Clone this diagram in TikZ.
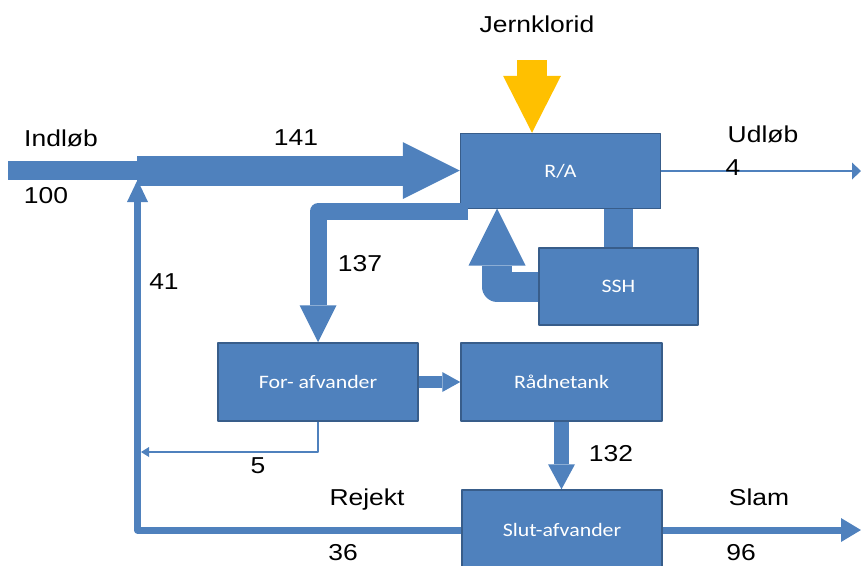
\documentclass[tikz,border=0pt]{standalone}
\usepackage{fontspec}
\setmainfont{Liberation Sans}
\newfontfamily\boxfont{Carlito}
\usetikzlibrary{arrows.meta}
\definecolor{fb}{HTML}{4F81BD}
\definecolor{bd}{HTML}{385D8A}
\definecolor{yl}{HTML}{FFC000}
\newcommand\hs[1]{\scalebox{1.15}[1]{#1}}
\begin{document}
\begin{tikzpicture}[x=1pt,y=-1pt,line cap=butt,line join=round,
  box/.style={draw=bd,fill=fb,line width=1.5pt,rectangle,inner sep=0pt,text=white,
    font=\boxfont\fontsize{19}{22}\selectfont},
  lab/.style={anchor=base,inner sep=0pt,font=\fontsize{23}{26}\selectfont},
  flow/.style={draw=fb}]
\useasboundingbox (0,0) rectangle (861,565);
\clip (0,0) rectangle (861,565);

% coordinates (free ends)
\coordinate (in) at (8,170.5);
\coordinate (j) at (137,170.5);
\coordinate (fe) at (532,60);
\coordinate (out) at (861,171);
\coordinate (s137) at (468,211.5);
\coordinate (tip41) at (137.5,180);
\coordinate (tip5) at (141,452);
\coordinate (slam) at (861,530);
\coordinate (tipssh) at (497,208.5);

% boxes (positions first, drawn later via node names)
\path (560.5,171) node[box,minimum width=200pt,minimum height=75pt,fill=none,draw=none] (ra) {};
\path (618.5,286.5) node[box,minimum width=159pt,minimum height=77pt,fill=none,draw=none] (ssh) {};
\path (318,382) node[box,minimum width=200pt,minimum height=78pt,fill=none,draw=none] (fa) {};
\path (561.5,382) node[box,minimum width=201pt,minimum height=78pt,fill=none,draw=none] (rt) {};
\path (562,530) node[box,minimum width=200pt,minimum height=80pt,fill=none,draw=none] (sa) {};

% connectors behind boxes
\draw[flow,line width=19pt] (in) -- (j);
\draw[flow,line width=30pt,-{Triangle[length=57pt,width=57pt,line width=0pt]}] (j) -- (j -| ra.west);
\draw[yl,line width=30pt,-{Triangle[length=57pt,width=58pt,line width=0pt]}] (fe) -- (fe |- ra.north);
\draw[flow,line width=2pt,-{Triangle[length=9pt,width=17pt,line width=0pt]}] (ra.east) -- (out);
\draw[flow,line width=7pt,-{Triangle[length=22pt,width=21pt,line width=0pt]}] (sa.west) -| (tip41);
\draw[flow,line width=2pt,-{Triangle[length=8pt,width=10pt,line width=0pt]}] (fa.south) |- (tip5);
\draw[flow,line width=12pt,-{Triangle[length=18pt,width=20pt,line width=0pt]}] (fa.east) -- (rt.west);
\draw[flow,line width=15pt,-{Triangle[length=25pt,width=27pt,line width=0pt]}] (rt.south) -- (rt.south |- sa.north);
\draw[flow,line width=7pt,-{Triangle[length=20pt,width=24pt,line width=0pt]}] (sa.east) -- (slam);
\draw[flow,line width=29pt] (ssh.north) -- (ssh.north |- ra.south);
\draw[flow,line width=30pt,-{Triangle[length=57pt,width=57pt,line width=0pt]}] (ssh.west) -| (tipssh);

% boxes
\node[box,minimum width=200pt,minimum height=75pt] (raB) at (ra) {\hs{R/A}};
\node[box,minimum width=159pt,minimum height=77pt] (sshB) at (ssh) {\hs{SSH}};
\node[box,minimum width=200pt,minimum height=78pt] (faB) at (fa) {\hs{For- afvander}};
\node[box,minimum width=201pt,minimum height=78pt] (rtB) at (rt) {\hs{Rådnetank}};
\node[box,minimum width=200pt,minimum height=80pt] (saB) at (sa) {\hs{Slut-afvander}};

% 137 band on top
\draw[flow,line width=17pt,-{Triangle[length=37pt,width=37pt,line width=0pt]}] (s137) -| (fa.north);

% labels
\node[lab] (lJ) at (537,32) {\hs{Jernklorid}};
\node[lab] (lIn) at (61,146) {\hs{Indløb}};
\node[lab] (l100) at (46,203) {\hs{100}};
\node[lab] (l141) at (296,145) {\hs{141}};
\node[lab] (lUd) at (763,142) {\hs{Udløb}};
\node[lab] (l4) at (733,175) {\hs{4}};
\node[lab] (l137) at (360,271) {\hs{137}};
\node[lab] (l41) at (164,289) {\hs{41}};
\node[lab] (l5) at (258,473) {\hs{5}};
\node[lab] (l132) at (611,461) {\hs{132}};
\node[lab] (lRe) at (367,505) {\hs{Rejekt}};
\node[lab] (lSl) at (759,505) {\hs{Slam}};
\node[lab] (l36) at (343,560) {\hs{36}};
\node[lab] (l96) at (741,560) {\hs{96}};
\end{tikzpicture}
\end{document}
